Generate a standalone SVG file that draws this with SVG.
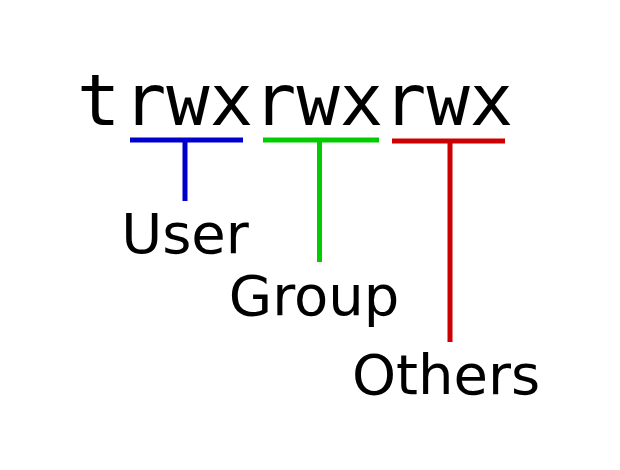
<svg xmlns="http://www.w3.org/2000/svg" width="620" height="470" viewBox="0 0 620 470">
<style>
.mono{font-family:"DejaVu Sans Mono","Liberation Mono",monospace;font-size:72px;fill:#000}
.lbl{font-family:"DejaVu Sans","Liberation Sans",sans-serif;font-size:56px;fill:#000;text-anchor:middle}
.ln{stroke-width:5;fill:none}
</style>
<rect width="620" height="470" fill="#fff"/>
<g id="perm">
<text class="mono" x="77" y="125">t</text>
<text class="mono" x="123" y="125">rwxrwxrwx</text>
</g>
<g id="connectors">
<path class="ln" stroke="#0000cc" d="M130 140H243M185 140V201"/>
<path class="ln" stroke="#00cc00" d="M263 140H379M319.5 140V262"/>
<path class="ln" stroke="#cc0000" d="M392 141H505M450 141V342"/>
</g>
<g id="user"><text class="lbl" x="185" y="253">User</text></g>
<g id="group"><text class="lbl" x="314" y="315">Group</text></g>
<g id="others"><text class="lbl" x="446" y="394">Others</text></g>
</svg>
